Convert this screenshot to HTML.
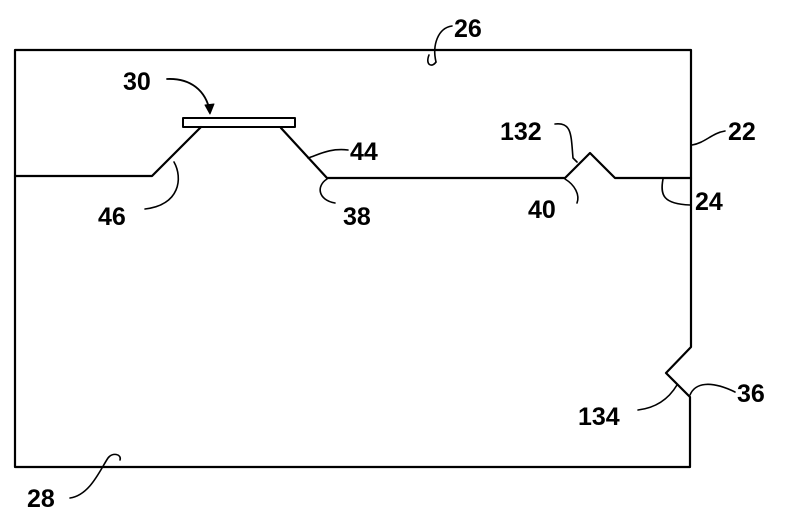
<!DOCTYPE html>
<html><head><style>html,body{margin:0;padding:0;background:#fff;}svg{display:block}</style></head>
<body>
<svg width="800" height="520" viewBox="0 0 800 520" xmlns="http://www.w3.org/2000/svg">
<g fill="none" stroke="#000" stroke-width="2.2" stroke-linecap="round" stroke-linejoin="round">
<!-- outer body -->
<path d="M15,50 L691,50 L691,347 L666,373 L690,397 L690,467 L15,467 Z"/>
<!-- surface -->
<path d="M15,176 L152,176 L201,127"/>
<path d="M281,128 L327,178 L565,178 L590,153 L615,178 L691,178"/>
<!-- platform -->
<rect x="183" y="118" width="112" height="9" stroke-width="2"/>
<!-- leaders -->
<path d="M436,62 C432,45 438,28 452,26" stroke-width="1.6"/>
<path d="M429,55 C425,65 432,68 436,62" stroke-width="1.6"/>
<path d="M167,79 C190,78 206,90 210,112" stroke-width="1.8"/>
<path d="M205,105 L210,114 L214,104 Z" fill="#000" stroke-width="1"/>
<path d="M348,150 C330,148 320,154 308,158" stroke-width="1.6"/>
<path d="M174,162 C183,178 180,205 145,209" stroke-width="1.6"/>
<path d="M327,179 C316,186 318,200 335,203" stroke-width="1.6"/>
<path d="M555,124 C572,122 571,135 573,158 L577,162" stroke-width="1.6"/>
<path d="M565,179 C575,185 580,195 577,203" stroke-width="1.6"/>
<path d="M663,179 C660,195 663,204 690,205" stroke-width="1.6"/>
<path d="M692,145 C705,143 712,133 725,131" stroke-width="1.6"/>
<path d="M677,385 C668,400 655,408 638,410" stroke-width="1.6"/>
<path d="M690,395 C695,383 710,380 735,392" stroke-width="1.6"/>
<path d="M70,498 C90,495 100,470 108,458 C112,452 122,454 120,460" stroke-width="1.6"/>
</g>
<g font-family="Liberation Sans, sans-serif" font-size="25" font-weight="bold" fill="#000">
<text x="454" y="37">26</text>
<text x="123" y="90">30</text>
<text x="350" y="160">44</text>
<text x="98" y="225">46</text>
<text x="343" y="225">38</text>
<text x="500" y="140">132</text>
<text x="528" y="218">40</text>
<text x="695" y="210">24</text>
<text x="728" y="140">22</text>
<text x="737" y="402">36</text>
<text x="578" y="425">134</text>
<text x="27" y="507">28</text>
</g>
</svg>
</body></html>
